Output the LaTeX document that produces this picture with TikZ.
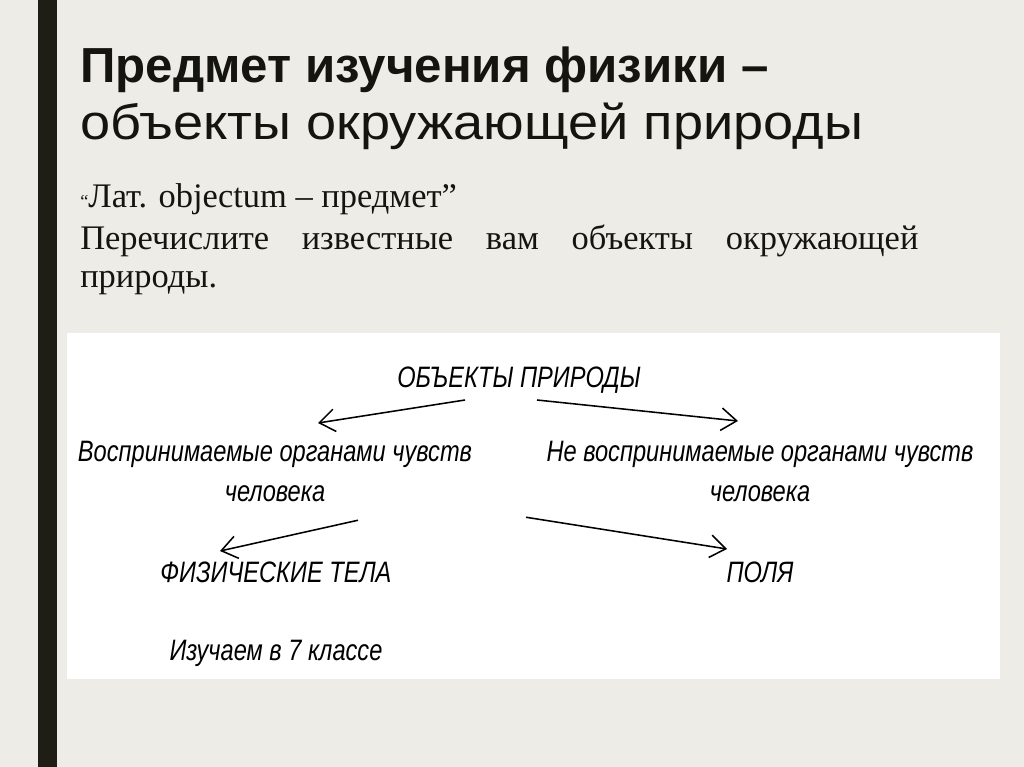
\documentclass[tikz,border=0pt]{standalone}
\usepackage{fontspec}
\setmainfont{Liberation Serif}
\newfontfamily\titlefont[FakeStretch=1.1]{Liberation Sans}
\newfontfamily\titleboldfont{Liberation Sans}
\newfontfamily\schemefont[FakeStretch=0.8]{Liberation Sans}
\usetikzlibrary{arrows.meta,positioning,calc}
\definecolor{slidebg}{HTML}{EEECE6}
\definecolor{barink}{HTML}{1E1E17}
\definecolor{inkdark}{HTML}{15150F}
\tikzset{
  titleline/.style={
    anchor=base west, inner sep=0pt, text=inkdark,
    font=\titlefont\fontsize{35}{40}\selectfont
  },
  titlebold/.style={titleline, font=\titleboldfont\bfseries\fontsize{35}{40}\selectfont},
  bodyline/.style={
    anchor=base west, inner sep=0pt, text=inkdark,
    font=\fontsize{24.5}{27}\selectfont
  },
  schemenode/.style={
    inner sep=0pt, align=center,
    font=\schemefont\itshape\fontsize{21}{28.5}\selectfont
  },
  schemearrow/.style={-{Straight Barb[length=11pt,width=16pt]}, line width=1.1pt},
}

\begin{document}
\begin{tikzpicture}[x=0.025cm,y=-0.025cm]
  \useasboundingbox[fill=slidebg] (0,0) rectangle (1024,767);
  \fill[barink] (38,0) rectangle (57,767);
  \fill[white] (67,333) rectangle (1000,679);
  % title
  \node[titlebold] (title1) at (80,83) {Предмет изучения физики –};
  \node[titleline] (title2) at (80,140) {объекты окружающей природы};
  % text
  \node[bodyline] (quote) at (80,208) {{\fontsize{13}{13}\selectfont “}Лат. objectum – предмет”};
  \node[bodyline, text width=596pt, align=justify] (task) at (80,250)
    {Перечислите известные вам объекты окружающей\linebreak природы.};
  % scheme
  \node[schemenode, anchor=base] (objects) at (519,387) {ОБЪЕКТЫ ПРИРОДЫ};
  \node[schemenode, anchor=north] (sense) at (275,441) {Воспринимаемые органами чувств\\человека};
  \node[schemenode, anchor=north] (nosense) at (760,441) {Не воспринимаемые органами чувств\\человека};
  \node[schemenode, anchor=base] (bodies) at (276,582) {ФИЗИЧЕСКИЕ ТЕЛА};
  \node[schemenode, anchor=base] (study) at (276,660) {Изучаем в 7 классе};
  \node[schemenode, anchor=base] (fields) at (760,582) {ПОЛЯ};
  \draw[schemearrow] ($(objects.base)+(-54,13)$) -- ($(sense.north)+(43,-18)$);
  \draw[schemearrow] ($(objects.base)+(18,13)$) -- ($(nosense.north)+(-22,-20)$);
  \draw[schemearrow] ($(sense.south)+(83,18)$) -- ($(bodies.base)+(-56,-31)$);
  \draw[schemearrow] ($(nosense.south)+(-234,15)$) -- ($(fields.base)+(-33,-33)$);
\end{tikzpicture}
\end{document}
